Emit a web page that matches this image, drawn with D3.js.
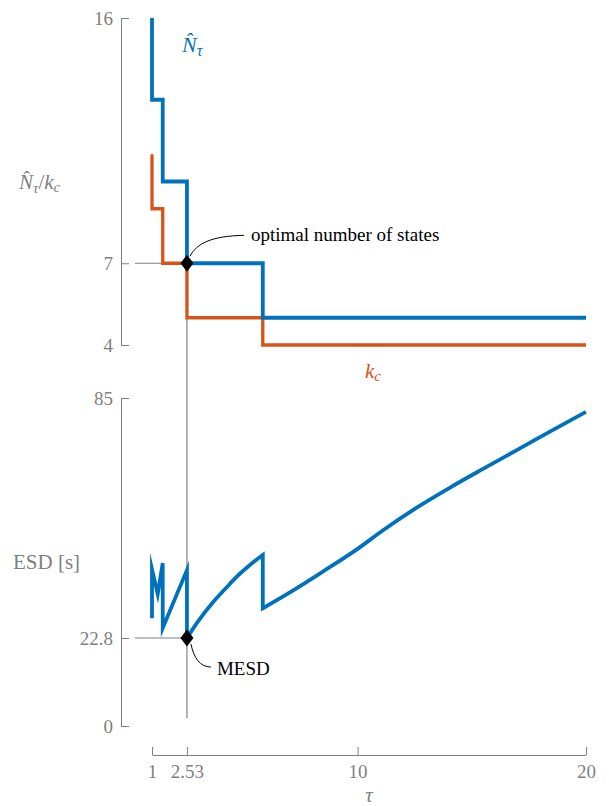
<!DOCTYPE html>
<html>
<head>
<meta charset="utf-8">
<script src="https://cdn.jsdelivr.net/npm/d3@7"></script>
<style>
  html, body { margin: 0; padding: 0; background: #fff; }
  svg { display: block; }
  svg text { font-family: "Liberation Serif", "DejaVu Serif", serif; }
</style>
</head>
<body>
<svg id="chart" width="609" height="806" font-family="Liberation Serif, DejaVu Serif, serif"></svg>
<script>
// Step-wise state counts versus the window length tau
const nTau = [1, 1, 1.47, 2.53, 5.85, 20];
const nHatValues = [16, 13, 10, 7, 5, 5];
const kcValues = [11, 9, 7, 5, 4, 4];

// Expected switching delay (ESD) versus tau
const esdTau = [1, 1, 1.25, 1.47, 1.47, 2.53, 2.53, 3.0, 3.69, 4.2, 4.71, 5.3, 5.85,
                5.85, 7.0, 8.45, 10, 11.13, 12.59, 14.05, 15.51, 16.97, 18.42, 20];
const esdValues = [27.9, 40.6, 34.2, 42.2, 25.4, 40.4, 22.8, 27.0, 32.2, 35.5, 38.7, 41.8, 44.3,
                   30.5, 34.5, 39.9, 45.9, 50.8, 56.6, 61.8, 66.7, 71.5, 76.3, 81.4];

// Axis ticks
const xTicks = [1, 2.53, 10, 20];
const xTickLabels = ["1", "2.53", "10", "20"];
const nTicks = [4, 7, 16];
const esdTicks = [0, 22.8, 85];
const esdTickLabels = ["0", "22.8", "85"];

// Optimum
const optimalTau = 2.53;
const optimalN = 7;
const minESD = 22.8;
const guideStartTau = 0.25;
const guideEndESD = 2;

const blue = "#0072BD";
const orange = "#D95319";
const gray = "#808080";
const serif = "Liberation Serif, DejaVu Serif, serif";

const svg = d3.select("#chart");

const x = d3.scaleLinear().domain([1, 20]).range([152, 586]);
const yN = d3.scaleLinear().domain([4, 16]).range([345, 18]);
const yE = d3.scaleLinear().domain([0, 85]).range([726, 398]);

// Axes
function styleAxis(g) {
  g.attr("font-family", serif).attr("font-size", 19);
  g.selectAll("path.domain").attr("stroke", gray).attr("stroke-width", 1);
  g.selectAll(".tick line").attr("stroke", gray).attr("stroke-width", 1);
  g.selectAll(".tick text").attr("fill", gray);
}

svg.append("g").attr("transform", "translate(121,0)")
  .call(d3.axisLeft(yN).tickValues(nTicks).tickFormat(d3.format("d"))
    .tickSizeInner(-8).tickSizeOuter(0).tickPadding(8))
  .call(styleAxis);

svg.append("g").attr("transform", "translate(121,0)")
  .call(d3.axisLeft(yE).tickValues(esdTicks).tickFormat((d, i) => esdTickLabels[i])
    .tickSizeInner(-8).tickSizeOuter(0).tickPadding(8))
  .call(styleAxis);

svg.append("g").attr("transform", "translate(0,755)")
  .call(d3.axisBottom(x).tickValues(xTicks).tickFormat((d, i) => xTickLabels[i])
    .tickSizeInner(-8).tickSizeOuter(0).tickPadding(10))
  .call(styleAxis);

// Guide lines marking the optimum
const guides = svg.append("g").attr("stroke", gray).attr("stroke-width", 1.2).attr("fill", "none");
guides.append("line")
  .attr("x1", x(guideStartTau)).attr("x2", x(optimalTau))
  .attr("y1", yN(optimalN)).attr("y2", yN(optimalN));
guides.append("line")
  .attr("x1", x(guideStartTau)).attr("x2", x(optimalTau))
  .attr("y1", yE(minESD)).attr("y2", yE(minESD));
guides.append("line")
  .attr("x1", x(optimalTau)).attr("x2", x(optimalTau))
  .attr("y1", yN(optimalN)).attr("y2", yE(guideEndESD));

// Step curves
const stepLine = (ys) => d3.line()
  .x((d, i) => x(nTau[i]))
  .y((d, i) => ys(d))
  .curve(d3.curveStepAfter);

svg.append("path")
  .datum(kcValues)
  .attr("d", stepLine(yN))
  .attr("fill", "none").attr("stroke", orange).attr("stroke-width", 3.3)
  .attr("stroke-linejoin", "miter");

svg.append("path")
  .datum(nHatValues)
  .attr("d", stepLine(yN))
  .attr("fill", "none").attr("stroke", blue).attr("stroke-width", 3.8)
  .attr("stroke-linejoin", "miter");

// ESD curve: split at the jumps, smooth the long pieces, join into one path
const esdPoints = esdTau.map((t, i) => [t, esdValues[i]]);
const pieces = [];
esdPoints.forEach((p, i) => {
  if (i === 0 || p[0] === esdPoints[i - 1][0]) pieces.push([p]);
  else pieces[pieces.length - 1].push(p);
});
const esdPath = pieces.map((piece, k) => {
  const gen = d3.line().x(d => x(d[0])).y(d => yE(d[1]))
    .curve(piece.length > 3 ? d3.curveMonotoneX : d3.curveLinear);
  const d = gen(piece);
  return k === 0 ? d : "L" + d.slice(1);
}).join("");

svg.append("path")
  .attr("d", esdPath)
  .attr("fill", "none").attr("stroke", blue).attr("stroke-width", 3.8)
  .attr("stroke-linejoin", "miter").attr("stroke-miterlimit", 10);

// Diamond markers
const diamond = "M0,-8.5L6.5,0L0,8.5L-6.5,0Z";
[[optimalTau, yN(optimalN)], [optimalTau, yE(minESD)]].forEach(([t, py]) => {
  svg.append("path").attr("d", diamond)
    .attr("transform", `translate(${x(t)},${py})`).attr("fill", "#000");
});

// Annotation pins
const ox = x(optimalTau), oy = yN(optimalN);
svg.append("path")
  .attr("d", `M${ox + 3},${oy - 7} C${ox + 10},${oy - 20} ${ox + 24},${oy - 27} ${ox + 57},${oy - 28}`)
  .attr("fill", "none").attr("stroke", "#000").attr("stroke-width", 1);
svg.append("text").attr("x", ox + 64).attr("y", oy - 22)
  .attr("font-size", 19).attr("fill", "#000")
  .text("optimal number of states");

const my = yE(minESD);
svg.append("path")
  .attr("d", `M${ox + 4},${my + 6} C${ox + 7},${my + 20} ${ox + 13},${my + 29} ${ox + 24},${my + 29}`)
  .attr("fill", "none").attr("stroke", "#000").attr("stroke-width", 1);
svg.append("text").attr("x", ox + 30).attr("y", my + 37)
  .attr("font-size", 19).attr("fill", "#000")
  .text("MESD");

// Series labels
const nLabel = svg.append("text").attr("x", 182).attr("y", 52)
  .attr("font-size", 22).attr("fill", blue).attr("font-style", "italic");
nLabel.append("tspan").text("N\u0302");
nLabel.append("tspan").attr("font-size", 16).attr("dy", 4).text("τ");

const kLabel = svg.append("text").attr("x", 365).attr("y", 378)
  .attr("font-size", 21).attr("fill", orange).attr("font-style", "italic");
kLabel.append("tspan").text("k");
kLabel.append("tspan").attr("font-size", 15).attr("dy", 3).text("c");

// Axis titles
const yLabel = svg.append("text").attr("x", 19).attr("y", 189)
  .attr("font-size", 21).attr("fill", gray).attr("font-style", "italic");
yLabel.append("tspan").text("N\u0302");
yLabel.append("tspan").attr("font-size", 15).attr("dy", 4).text("τ");
yLabel.append("tspan").attr("font-style", "normal").attr("dy", -4).text("/");
yLabel.append("tspan").text("k");
yLabel.append("tspan").attr("font-size", 15).attr("dy", 3).text("c");

svg.append("text").attr("x", 13).attr("y", 569)
  .attr("font-size", 21).attr("fill", gray).text("ESD [s]");

svg.append("text").attr("x", x(10.5)).attr("y", 802)
  .attr("text-anchor", "middle").attr("font-size", 21).attr("fill", gray)
  .attr("font-style", "italic").text("τ");
</script>
</body>
</html>
